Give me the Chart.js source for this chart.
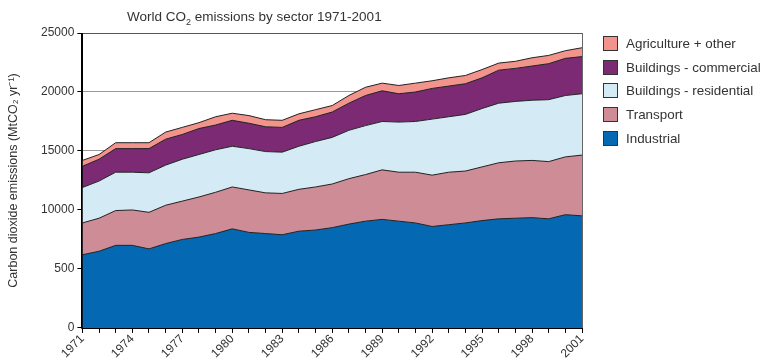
<!DOCTYPE html>
<html>
<head>
<meta charset="utf-8">
<script src="https://cdn.jsdelivr.net/npm/chart.js@4"></script>
<style>
  body { margin: 0; background: #fff; }
  #wrap { position: relative; width: 761px; height: 360px; font-family: "Liberation Sans", Arial, sans-serif; }
  #title {
    position: absolute; left: 127px; top: 9px;
    font-size: 13.5px; color: #333; white-space: nowrap;
  }
  #title sub { font-size: 9px; }
  #legend { position: absolute; left: 603px; top: 32px; }
  .item { display: flex; align-items: center; height: 23.6px; font-size: 13.4px; color: #333; white-space: nowrap; }
  .box { width: 13px; height: 13px; border: 1px solid #333; margin-right: 8px; }
</style>
</head>
<body>
<div id="wrap">
  <canvas id="chartCO2" width="761" height="360"></canvas>
  <div id="title">World CO<sub>2</sub> emissions by sector 1971-2001</div>
  <div id="legend"></div>
</div>
<script>
const years = ['1971','1972','1973','1974','1975','1976','1977','1978','1979','1980',
  '1981','1982','1983','1984','1985','1986','1987','1988','1989','1990',
  '1991','1992','1993','1994','1995','1996','1997','1998','1999','2000','2001']

// MtCO2 per year, each sector on its own (stacked in the chart)
const industrial = [6200,6500,7000,7000,6700,7150,7500,7700,8000,8400,8100,8000,7900,8200,8300,8500,
  8800,9050,9200,9050,8900,8600,8750,8900,9100,9250,9300,9350,9250,9600,9500]
const transport = [2700,2800,2950,3000,3100,3250,3250,3400,3500,3550,3600,3450,3500,3550,3650,3700,
  3850,3950,4200,4150,4300,4350,4450,4400,4550,4750,4850,4850,4850,4900,5150]
const residential = [3000,3150,3250,3200,3350,3400,3550,3600,3600,3450,3500,3500,3500,3650,3850,3950,
  4100,4150,4100,4250,4300,4750,4700,4800,4950,5050,5050,5100,5250,5200,5200]
const commercial = [1800,1850,2000,2000,2050,2200,2100,2200,2100,2200,2150,2100,2100,2200,2100,2150,
  2300,2550,2600,2400,2500,2600,2600,2600,2600,2800,2800,2900,3050,3150,3150]
const agriculture = [500,400,500,500,500,600,600,500,700,600,650,600,600,550,600,550,
  650,700,650,700,750,650,700,700,700,600,600,700,700,650,750]

const yTicks = [0,5000,10000,15000,20000,25000]
const yTickLabels = ['0','500','10000','15000','20000','25000']

const font = '"Liberation Sans", Arial, sans-serif'

function series(label, data, color, fill) {
  return {
    label: label,
    data: data,
    backgroundColor: color,
    borderColor: '#222',
    borderWidth: 1,
    pointRadius: 0,
    fill: fill,
    tension: 0
  }
}

// left + bottom axis lines in black, right edge in grey, drawn over the fills
const frame = {
  id: 'frame',
  afterDatasetsDraw(chart) {
    const {ctx, chartArea} = chart
    const l = Math.round(chartArea.left), r = Math.round(chartArea.right)
    const t = Math.round(chartArea.top), b = Math.round(chartArea.bottom)
    ctx.save()
    ctx.lineWidth = 1
    ctx.strokeStyle = '#666'
    ctx.beginPath()
    ctx.moveTo(r + 0.5, t)
    ctx.lineTo(r + 0.5, b)
    ctx.stroke()
    ctx.strokeStyle = '#000'
    ctx.beginPath()
    ctx.moveTo(l - 0.5, t)
    ctx.lineTo(l - 0.5, b + 0.5)
    ctx.lineTo(r + 1, b + 0.5)
    ctx.stroke()
    ctx.restore()
  }
}

const chart = new Chart(document.getElementById('chartCO2'), {
  type: 'line',
  data: {
    labels: years,
    datasets: [
      series('Industrial', industrial, '#0568b3', 'origin'),
      series('Transport', transport, '#cd8c96', '-1'),
      series('Buildings - residential', residential, '#d4eaf4', '-1'),
      series('Buildings - commercial', commercial, '#7b2a73', '-1'),
      series('Agriculture + other', agriculture, '#f2938c', '-1')
    ]
  },
  options: {
    responsive: false,
    animation: false,
    layout: { padding: { top: 33, left: 2, right: 179, bottom: 0 } },
    plugins: {
      legend: { display: false },
      tooltip: { enabled: false }
    },
    scales: {
      x: {
        offset: false,
        grid: { drawOnChartArea: false, tickLength: 5, tickColor: '#000' },
        border: { color: '#000' },
        ticks: {
          autoSkip: false,
          maxRotation: 45,
          minRotation: 45,
          padding: -1,
          color: '#333',
          font: { family: font, size: 12 },
          callback: (v, i) => (i % 3 === 0 ? years[i] : '')
        }
      },
      y: {
        stacked: true,
        min: 0,
        max: 25000,
        afterBuildTicks: (axis) => { axis.ticks = yTicks.map(v => ({value: v})) },
        grid: {
          tickLength: 5,
          tickColor: '#000',
          color: (c) => (c.tick && c.tick.value === 25000 ? '#555' : '#999')
        },
        border: { color: '#000' },
        ticks: {
          color: '#333',
          font: { family: font, size: 12 },
          callback: (v) => yTickLabels[yTicks.indexOf(v)]
        },
        title: {
          display: true,
          text: 'Carbon dioxide emissions (MtCO₂ yr⁻¹)',
          color: '#333',
          padding: { top: 4, bottom: 17 },
          font: { family: font, size: 12.5 }
        }
      }
    }
  },
  plugins: [frame]
})

// legend, top entry first as in the figure
const legend = document.getElementById('legend')
chart.data.datasets.slice().reverse().forEach(ds => {
  const row = document.createElement('div')
  row.className = 'item'
  const box = document.createElement('span')
  box.className = 'box'
  box.style.background = ds.backgroundColor
  row.appendChild(box)
  row.appendChild(document.createTextNode(ds.label))
  legend.appendChild(row)
})
</script>
</body>
</html>
